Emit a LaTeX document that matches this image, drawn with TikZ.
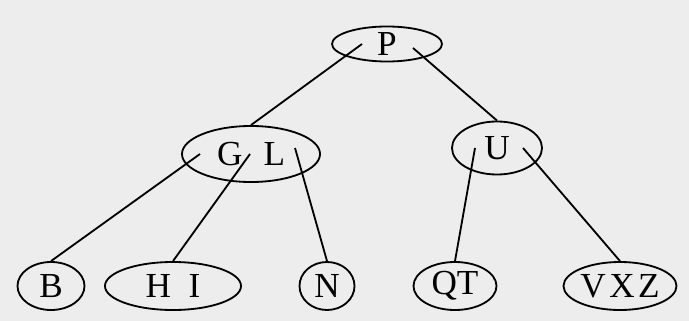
\documentclass[tikz,border=0pt]{standalone}
\usepackage{fontspec}
\setmainfont{Liberation Serif}
\usetikzlibrary{shapes.geometric}
\usetikzlibrary{positioning}

\begin{document}
\begin{tikzpicture}[x=0.025cm,y=-0.025cm,
  bnode/.style={ellipse,draw=black,line width=1.3pt,inner sep=0pt,font=\fontsize{25}{28}\selectfont},
  link/.style={draw=black,line width=1.3pt}]
\fill[black!7] (0,0) rectangle (689,321);
\useasboundingbox (0,0) rectangle (689,321);

% root and second level
\node[bnode,minimum width=2.75cm,minimum height=0.875cm] (P) at (387,44) {P};
\node[bnode,minimum width=3.45cm,minimum height=1.4cm] (GL) at (251,154) {G\hspace{0.6em}L};
\node[bnode,minimum width=2.25cm,minimum height=1.325cm] (U) at (497,148) {U};

% leaves
\node[bnode,minimum width=1.675cm,minimum height=1.2cm] (B) at (51,286) {B};
\node[bnode,minimum width=3.4cm,minimum height=1.2cm] (HI) at (173,286) {H\hspace{0.5em}I};
\node[bnode,minimum width=1.375cm,minimum height=1.2cm] (N) at (327,286) {N};
\node[bnode,minimum width=2.075cm,minimum height=1.2cm] (QT) at (455,286) {QT};
\node[bnode,minimum width=2.825cm,minimum height=1.2cm] (VXZ) at (620,286) {V\hspace{0.1em}X\hspace{0.1em}Z};

\draw[link] ([xshift=-0.625cm]P.center) -- (GL.north);
\draw[link] ([xshift=0.65cm,yshift=-0.1cm]P.center) -- (U.north);
\draw[link] ([xshift=-1.275cm]GL.center) -- (B.north);
\draw[link] ([xshift=-0.025cm]GL.center) -- (HI.north);
\draw[link] ([xshift=1.1cm,yshift=0.15cm]GL.center) -- (N.north);
\draw[link] ([xshift=-0.55cm]U.center) -- (QT.north);
\draw[link] ([xshift=0.65cm]U.center) -- (VXZ.north);

\end{tikzpicture}
\end{document}
